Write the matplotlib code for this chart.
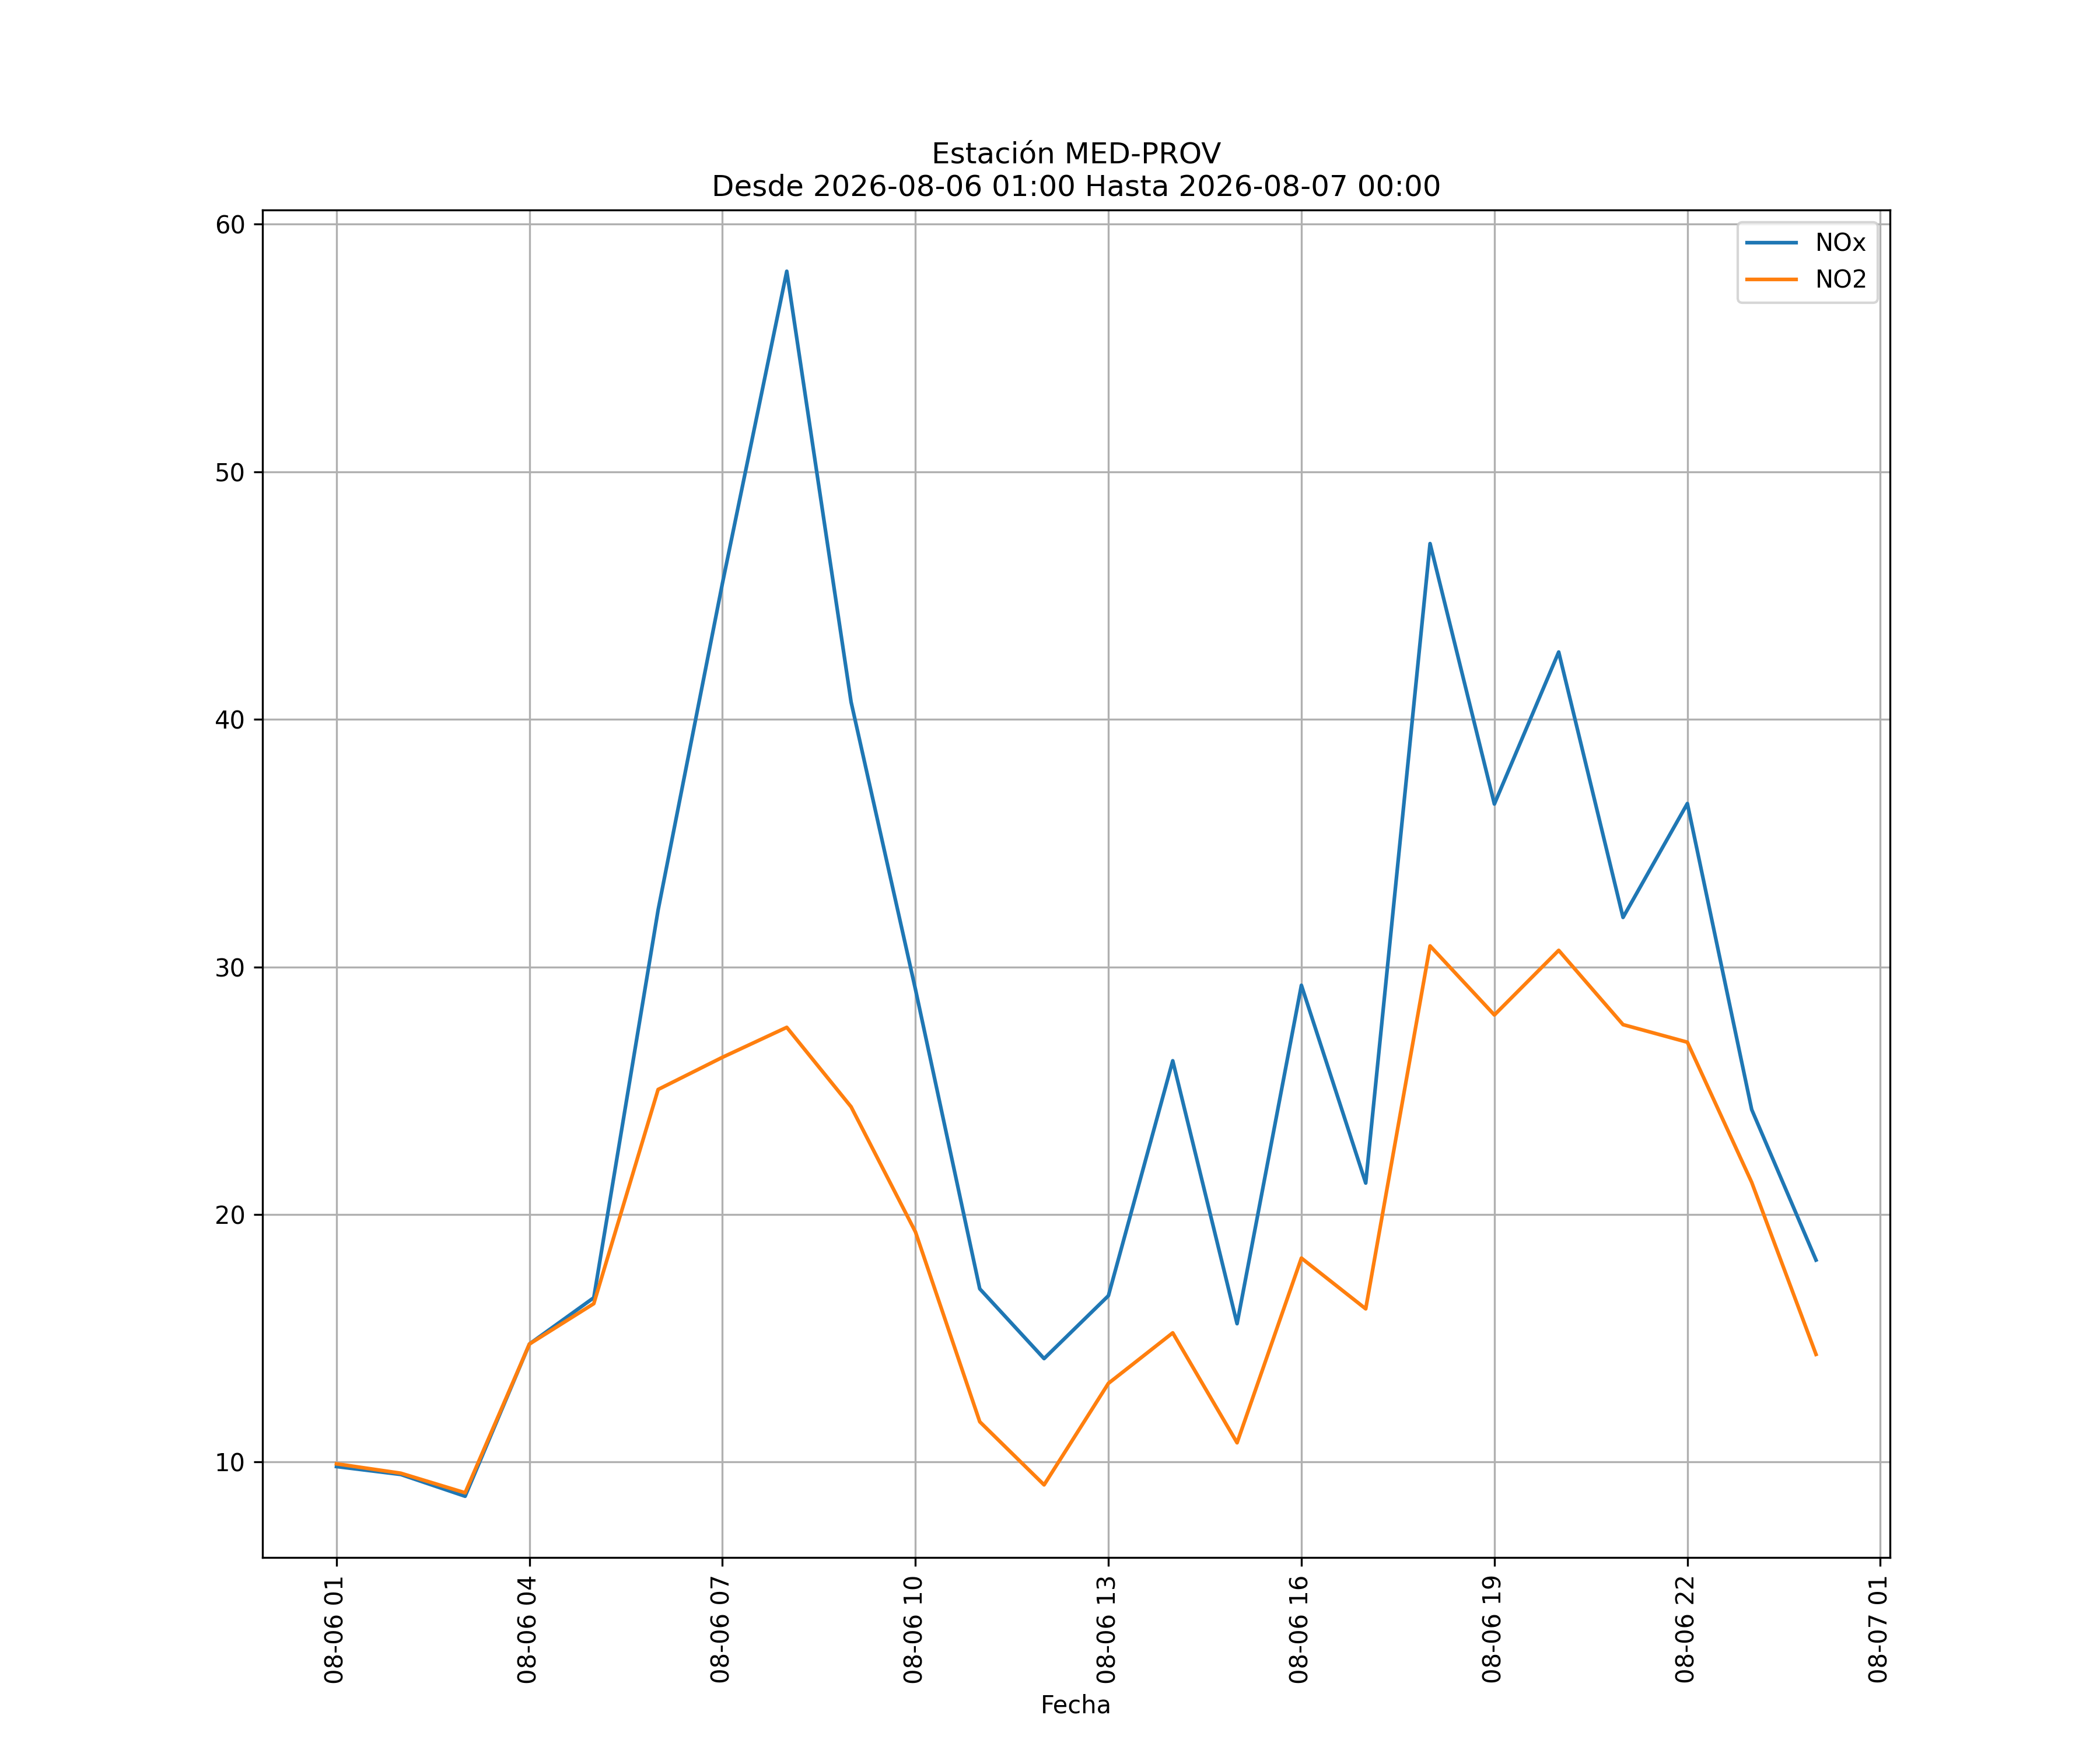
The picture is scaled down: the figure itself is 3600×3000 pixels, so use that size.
import matplotlib
matplotlib.use("Agg")
import matplotlib.pyplot as plt
import matplotlib.dates as mdates
import pandas as pd

times = pd.date_range("2026-08-06 01:00", "2026-08-07 00:00", freq="h")
nox = [9.82, 9.5, 8.62, 14.77, 16.64, 32.3, 45.5, 58.1, 40.7, 29.1, 17.0, 14.18,
       16.72, 26.21, 15.59, 29.26, 21.27, 47.1, 36.58, 42.72, 32.0, 36.6, 24.24, 18.16]
no2 = [9.93, 9.55, 8.76, 14.77, 16.4, 25.05, 26.35, 27.56, 24.35, 19.3, 11.63, 9.08,
       13.18, 15.22, 10.78, 18.24, 16.19, 30.85, 28.06, 30.67, 27.67, 26.96, 21.3, 14.35]

fig, ax = plt.subplots(figsize=(12, 10), dpi=300)
ax.plot(times, nox, label="NOx")
ax.plot(times, no2, label="NO2")
ax.xaxis.set_major_locator(mdates.HourLocator(byhour=range(1, 24, 3)))
ax.xaxis.set_major_formatter(mdates.DateFormatter("%m-%d %H"))
plt.setp(ax.get_xticklabels(), rotation=90)
ax.grid(True)
ax.legend(loc="upper right")
ax.set_xlabel("Fecha")
ax.set_title("Estación MED-PROV\nDesde 2026-08-06 01:00 Hasta 2026-08-07 00:00")
fig.savefig("out.png", dpi=300)
